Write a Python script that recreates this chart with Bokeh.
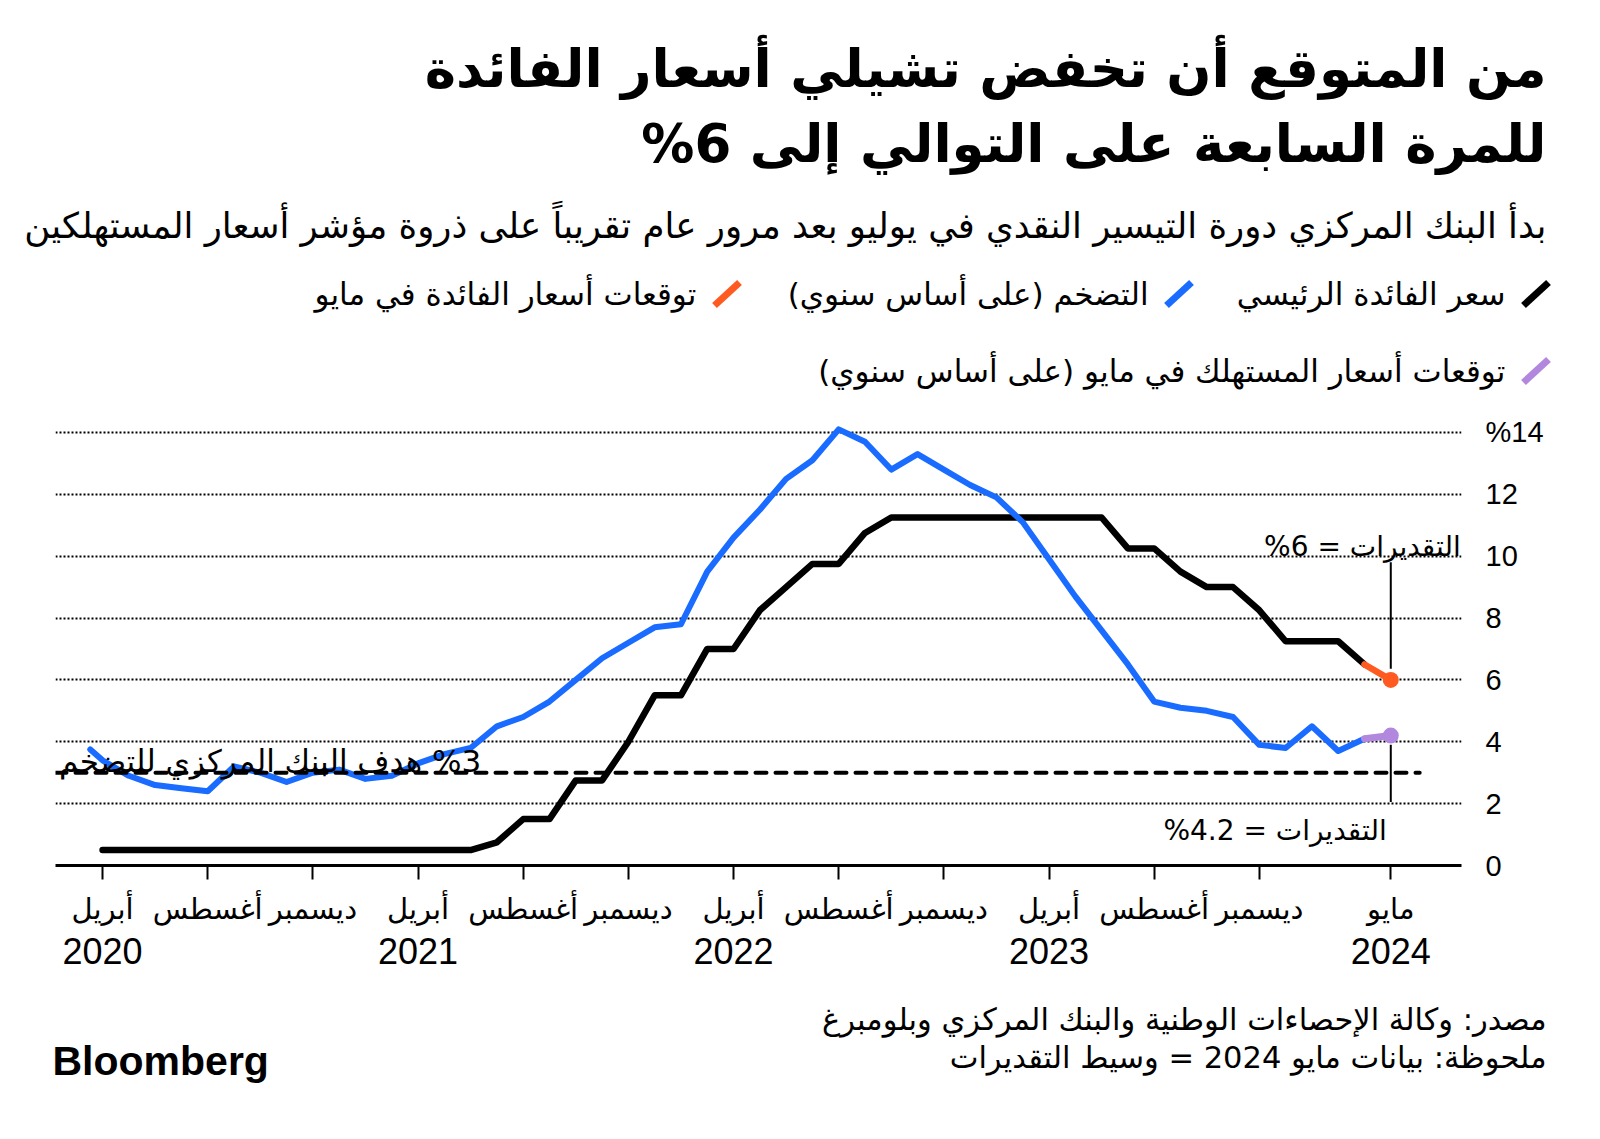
import pandas as pd
from bokeh.plotting import figure
from bokeh.layouts import column
from bokeh.models import Range1d, FixedTicker, LinearAxis, Label
from bokeh.core.properties import value
from bokeh.embed import file_html
from bokeh.resources import INLINE

# ---------------- data ----------------
title_lines = ["من المتوقع أن تخفض تشيلي أسعار الفائدة",
               "للمرة السابعة على التوالي إلى 6%"]
subtitle = "بدأ البنك المركزي دورة التيسير النقدي في يوليو بعد مرور عام تقريباً على ذروة مؤشر أسعار المستهلكين"
legend_labels = ["سعر الفائدة الرئيسي", "التضخم (على أساس سنوي)",
                 "توقعات أسعار الفائدة في مايو", "توقعات أسعار المستهلك في مايو (على أساس سنوي)"]
source_note = "مصدر: وكالة الإحصاءات الوطنية والبنك المركزي وبلومبرغ"
foot_note = "ملحوظة: بيانات مايو 2024 = وسيط التقديرات"
target_label = "%3 هدف البنك المركزي للتضخم"
rate_est_label = "التقديرات = 6%"
cpi_est_label = "التقديرات = 4.2%"

tick_dates = ["2020-04", "2020-08", "2020-12", "2021-04", "2021-08", "2021-12", "2022-04",
              "2022-08", "2022-12", "2023-04", "2023-08", "2023-12", "2024-05"]
tick_month_labels = ["أبريل", "أغسطس", "ديسمبر", "أبريل", "أغسطس", "ديسمبر", "أبريل",
                     "أغسطس", "ديسمبر", "أبريل", "أغسطس", "ديسمبر", "مايو"]
year_tick_dates = ["2020-04", "2021-04", "2022-04", "2023-04", "2024-05"]
year_labels = ["2020", "2021", "2022", "2023", "2024"]
y_ticks = [0, 2, 4, 6, 8, 10, 12, 14]

rate_dates = [str(d) for d in pd.period_range("2020-04", "2024-04", freq="M")]
policy_rate = [0.5] * 15 + [0.75, 1.5, 1.5, 2.75, 2.75, 4.0, 5.5, 5.5, 7.0, 7.0, 8.25, 9.0, 9.75,
                            9.75, 10.75, 11.25] + [11.25] * 8 + [10.25, 10.25, 9.5, 9.0, 9.0,
                            8.25, 7.25, 7.25, 7.25, 6.5]

cpi_dates = ["2020-03-17"] + [str(d) for d in pd.period_range("2020-04", "2024-04", freq="M")]
cpi = [3.75,
       3.4, 2.9, 2.6, 2.5, 2.4, 3.2, 3.0, 2.7, 3.0,
       3.1, 2.8, 2.9, 3.3, 3.6, 3.8, 4.5, 4.8, 5.3, 6.0, 6.7, 7.2,
       7.7, 7.8, 9.5, 10.6, 11.5, 12.5, 13.1, 14.1, 13.7, 12.8, 13.3, 12.8,
       12.3, 11.9, 11.1, 9.9, 8.7, 7.6, 6.5, 5.3, 5.1, 5.0, 4.8, 3.9,
       3.8, 4.5, 3.7, 4.1]

fc_dates = ["2024-04", "2024-05"]
rate_forecast = [6.5, 6.0]
cpi_forecast = [4.1, 4.2]
inflation_target = 3.0


def midx(s):
    parts = [int(v) for v in s.split("-")]
    day = parts[2] if len(parts) > 2 else 1
    return (parts[0] - 2020) * 12 + (parts[1] - 4) + (day - 1) / 30.0


# ---------------- styling ----------------
AR = "DejaVu Sans"
NUM = "Liberation Sans"
RLM = "\u200f"
BLUE = "#1a6bff"
ORANGE = "#ff5a1f"
PURPLE = "#b287de"
W = 1600
HDR_H, MAIN_H, FTR_H = 395, 590, 145
FTR_TOP = HDR_H + MAIN_H


def no_align(f):
    if "frame_align" in f.properties():
        f.frame_align = False


def blank_fig(h):
    f = figure(width=W, height=h, output_backend="svg", toolbar_location=None,
               x_range=Range1d(0, W), y_range=Range1d(h, 0), title_location=None,
               x_axis_location=None, y_axis_location=None, min_border=0)
    f.outline_line_color = None
    f.grid.visible = False
    f.background_fill_color = "white"
    f.border_fill_color = "white"
    no_align(f)
    return f


def put_text(f, txt, x, y, size, align="right", bold=False, font=AR):
    f.text(x=[x], y=[y], text=[RLM + txt + RLM if font == AR else txt],
           text_font=value(font), text_font_size=value(f"{size}px"),
           text_font_style="bold" if bold else "normal",
           text_align=align, text_baseline="alphabetic", text_color="black")


# ---------------- header ----------------
hdr = blank_fig(HDR_H)
put_text(hdr, title_lines[0], 1546, 68, 53, bold=True)
put_text(hdr, title_lines[1], 1546, 143, 53, bold=True)
put_text(hdr, subtitle, 1546, 225, 35.5)

legend_colors = ["black", BLUE, ORANGE, PURPLE]
legend_right = [1505, 1148, 696, 1505]
legend_base = [293, 293, 293, 370]
for lab, col, xr, yb in zip(legend_labels, legend_colors, legend_right, legend_base):
    hdr.segment(x0=[xr + 18], y0=[yb + 12], x1=[xr + 43], y1=[yb - 11],
                line_color=col, line_width=7, line_cap="butt")
    put_text(hdr, lab, xr, yb, 31)

# ---------------- main chart ----------------
p = figure(width=W, height=MAIN_H, output_backend="svg", toolbar_location=None,
           x_range=Range1d(-1.79, 51.69), y_range=Range1d(0, 15.0), title_location=None,
           y_axis_location="right", min_border_left=55, min_border_right=W - 55 - 1406,
           min_border_top=6, min_border_bottom=MAIN_H - 6 - 464)
no_align(p)
p.outline_line_color = None
p.background_fill_color = "white"
p.border_fill_color = "white"
p.xgrid.visible = False
p.ygrid.ticker = FixedTicker(ticks=y_ticks)
p.ygrid.grid_line_color = "black"
p.ygrid.grid_line_dash = "2 2"
p.ygrid.grid_line_width = 1.8

ya = p.yaxis[0]
ya.ticker = FixedTicker(ticks=y_ticks)
ya.axis_line_color = None
ya.major_tick_line_color = None
ya.minor_tick_line_color = None
ya.major_label_standoff = 18
ya.major_label_text_font = NUM
ya.major_label_text_font_size = "29px"
ya.major_label_text_color = "black"
ya.major_label_overrides = {14: "%14"}

tick_idx = [midx(d) for d in tick_dates]
xa = p.xaxis[0]
xa.ticker = FixedTicker(ticks=tick_idx)
xa.major_label_overrides = {t: lab for t, lab in zip(tick_idx, tick_month_labels)}
xa.axis_line_width = 3
xa.axis_line_color = "black"
xa.major_tick_line_width = 2
xa.major_tick_line_color = "black"
xa.major_tick_out = 14
xa.major_tick_in = 0
xa.minor_tick_line_color = None
xa.major_label_standoff = 12
xa.major_label_text_font = AR
xa.major_label_text_font_size = "29px"
xa.major_label_text_color = "black"

yidx = [midx(d) for d in year_tick_dates]
xa2 = LinearAxis(ticker=FixedTicker(ticks=yidx),
                 major_label_overrides={t: lab for t, lab in zip(yidx, year_labels)})
xa2.axis_line_color = None
xa2.major_tick_line_color = None
xa2.minor_tick_line_color = None
xa2.major_label_standoff = 3
xa2.major_label_text_font = NUM
xa2.major_label_text_font_size = "36px"
xa2.major_label_text_color = "black"
p.add_layout(xa2, "below")

rx = [midx(d) for d in rate_dates]
cx = [midx(d) for d in cpi_dates]
fx = [midx(d) for d in fc_dates]

p.line(rx, policy_rate, line_color="black", line_width=6.5, line_join="round", line_cap="round")
p.line(cx, cpi, line_color=BLUE, line_width=6, line_join="round", line_cap="round")
p.segment(x0=[p.x_range.start], y0=[inflation_target], x1=[fx[-1] + 1.1], y1=[inflation_target],
          line_color="black", line_width=4, line_dash="11 9", line_cap="round")
p.line(fx, rate_forecast, line_color=ORANGE, line_width=6.5, line_cap="round")
p.line(fx, cpi_forecast, line_color=PURPLE, line_width=7, line_cap="round")
p.scatter([fx[-1]], [rate_forecast[-1]], size=16, fill_color=ORANGE, line_color=None)
p.scatter([fx[-1]], [cpi_forecast[-1]], size=16, fill_color=PURPLE, line_color=None)
p.segment(x0=[fx[-1], fx[-1]], y0=[rate_forecast[-1] + 0.36, cpi_forecast[-1] - 0.3],
          x1=[fx[-1], fx[-1]], y1=[9.8, 2.05], line_color="black", line_width=2)

p.add_layout(Label(x=14.4, y=3.39, text=RLM + target_label + RLM, text_font=AR,
                   text_font_size="31px", text_align="right", text_baseline="alphabetic",
                   text_color="black"))
p.add_layout(Label(x=fx[-1], x_offset=70, y=10.3, text=RLM + rate_est_label + RLM, text_font=AR,
                   text_font_size="28px", text_align="right", text_baseline="alphabetic",
                   text_color="black"))
p.add_layout(Label(x=fx[-1], x_offset=-4, y=1.13, text=RLM + cpi_est_label + RLM, text_font=AR,
                   text_font_size="28px", text_align="right", text_baseline="alphabetic",
                   text_color="black"))

# ---------------- footer ----------------
ftr = blank_fig(FTR_H)
put_text(ftr, source_note, 1546, 1019 - FTR_TOP, 30.5)
put_text(ftr, foot_note, 1546, 1057 - FTR_TOP, 30.5)
put_text(ftr, "Bloomberg", 52, 1060 - FTR_TOP, 41, align="left", bold=True, font=NUM)

layout = column(hdr, p, ftr, spacing=0)
open("out.html", "w").write(file_html(layout, INLINE))
